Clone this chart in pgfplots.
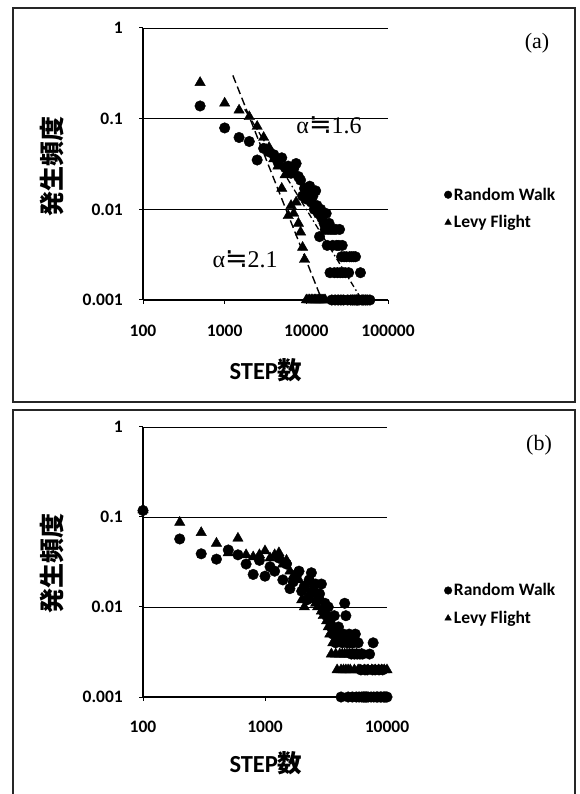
\documentclass[border=0pt]{standalone}
\usepackage{pgfplots}
\pgfplotsset{compat=1.18}
\usepackage{fontspec}
\setmainfont{Liberation Serif}
\newfontfamily\calfont{Carlito}
\newfontfamily\cjk{Noto Sans CJK JP}
\newfontfamily\symf{DejaVu Sans}
\newcommand\tickf{\calfont\bfseries\fontsize{17.5}{17.5}\selectfont}
\newcommand\legf{\calfont\bfseries\fontsize{17.5}{17.5}\selectfont}
\begin{document}
\begin{tikzpicture}[x=1pt,y=1pt]
\useasboundingbox (0,0) rectangle (579,794);
\draw[line width=1.3pt, black!85] (13,786) rectangle (575,392);
\draw[line width=1.3pt, black!85] (13,384) rectangle (575,-10);

% ---------------- (a)
\begin{axis}[
  xmode=log, ymode=log, scale only axis,
  axis lines*=left,
  ymajorgrids, grid style={black, line width=0.8pt},
  axis line style={black, line width=1.1pt},
  tick style={black, line width=1pt},
  major tick length=4pt, tick align=outside,
  xminorticks=false, yminorticks=false,
  ymin=0.001, ymax=1,
  ytick={0.001,0.01,0.1,1}, yticklabels={0.001,0.01,0.1,1},
  ticklabel style={font=\tickf},
  yticklabel style={anchor=east, inner sep=0pt, xshift=-16pt},
  clip=false,
  ylabel={\cjk\bfseries 発生頻度},
  xlabel={{\calfont\bfseries STEP}{\cjk\bfseries 数}},
  legend style={draw=none, fill=none, font=\legf, anchor=west,
    row sep=10pt, inner sep=0pt, at={(1.229,0.336)}},
  legend cell align=left,
  legend image post style={mark size=3.8pt},
  at={(143pt,494pt)}, anchor=south west,
  width=245pt, height=272pt,
  xmin=100, xmax=100000,
  xtick={100,1000,10000,100000}, xticklabels={100,1000,10000,100000},
  xticklabel style={anchor=center, yshift=-27pt},
  xlabel style={at={(axis description cs:0.502,-0.26)}, anchor=center, font=\fontsize{24.5}{24.5}\selectfont},
  ylabel style={at={(axis description cs:-0.371,0.489)}, anchor=center, font=\fontsize{25}{25}\selectfont},
]
\addplot[only marks, mark=*, mark size=5.3pt, black, mark options={fill=black}] coordinates {
(500,0.138) (1000,0.079) (1500,0.062) (2000,0.056) (2500,0.035) (3000,0.047)
(3500,0.043) (4000,0.040) (4500,0.033) (5000,0.037) (5500,0.029) (6000,0.030)
(6500,0.025) (7000,0.028) (7500,0.032) (8000,0.023) (8500,0.021) (9000,0.014)
(9500,0.017) (10000,0.013) (10500,0.016) (11000,0.018) (11500,0.012) (12000,0.014)
(12500,0.010) (13000,0.016) (13500,0.011) (14000,0.009) (14500,0.005) (15000,0.010)
(15500,0.008) (16000,0.009) (16500,0.007) (17000,0.006) (17500,0.009) (18000,0.004)
(18500,0.006) (19000,0.007) (19500,0.002) (20000,0.006) (20500,0.001) (21000,0.004)
(21500,0.006) (22000,0.002) (22500,0.001) (23000,0.006) (23500,0.004) (24000,0.002)
(24500,0.001) (25000,0.004) (25500,0.006) (26000,0.002) (26500,0.001) (27000,0.003)
(27500,0.004) (28000,0.002) (28500,0.001) (29000,0.003) (30000,0.002) (31000,0.003)
(32000,0.001) (33000,0.002) (34000,0.003) (35000,0.001) (36000,0.003) (37000,0.001)
(38000,0.003) (39000,0.001) (40000,0.003) (41000,0.001) (42000,0.001) (44000,0.001)
(46000,0.002) (48000,0.001) (50000,0.001) (53000,0.001) (56000,0.001) (60000,0.001)
};
\addlegendentry{Random Walk}
\addplot[only marks, mark=triangle*, mark size=6pt, black, mark options={fill=black}] coordinates {
(500,0.25) (1000,0.148) (1500,0.124) (2000,0.105) (2500,0.082) (3000,0.062)
(3500,0.048) (4000,0.036) (4500,0.030) (5000,0.017) (5500,0.024) (6000,0.0085)
(6500,0.011) (7000,0.009) (7500,0.012) (8000,0.007) (8500,0.0056) (9000,0.0038)
(9500,0.0028) (10000,0.001) (10500,0.001) (11000,0.001) (11500,0.001) (12000,0.001)
(12500,0.001) (13000,0.001) (13500,0.001) (14000,0.001) (14500,0.001) (15000,0.001)
(15500,0.001) (16000,0.001) (16500,0.001) (17000,0.001)
};
\addlegendentry{Levy Flight}
\addplot[black, line width=1.4pt, dash pattern=on 8pt off 4pt, forget plot] coordinates {(1260,0.30) (15500,0.001)};
\addplot[black, line width=1.3pt, dash pattern=on 6pt off 3pt on 1.5pt off 3pt, forget plot] coordinates {(1760,0.127) (45000,0.0011)};
\node[font=\fontsize{24}{24}\selectfont] at (axis cs:19000,0.085) {α{\symf\fontsize{27}{27}\selectfont ≒}1.6};
\node[font=\fontsize{24}{24}\selectfont] at (axis cs:1780,0.0028) {α{\symf\fontsize{27}{27}\selectfont ≒}2.1};
\end{axis}

% ---------------- (b)
\begin{axis}[
  xmode=log, ymode=log, scale only axis,
  axis lines*=left,
  ymajorgrids, grid style={black, line width=0.8pt},
  axis line style={black, line width=1.1pt},
  tick style={black, line width=1pt},
  major tick length=4pt, tick align=outside,
  xminorticks=false, yminorticks=false,
  ymin=0.001, ymax=1,
  ytick={0.001,0.01,0.1,1}, yticklabels={0.001,0.01,0.1,1},
  ticklabel style={font=\tickf},
  yticklabel style={anchor=east, inner sep=0pt, xshift=-16pt},
  clip=false,
  ylabel={\cjk\bfseries 発生頻度},
  xlabel={{\calfont\bfseries STEP}{\cjk\bfseries 数}},
  legend style={draw=none, fill=none, font=\legf, anchor=west,
    row sep=10pt, inner sep=0pt, at={(1.234,0.343)}},
  legend cell align=left,
  legend image post style={mark size=3.8pt},
  at={(143pt,97pt)}, anchor=south west,
  width=244pt, height=270pt,
  xmin=100, xmax=10000,
  xtick={100,1000,10000}, xticklabels={100,1000,10000},
  xticklabel style={anchor=center, yshift=-26pt},
  xlabel style={at={(axis description cs:0.504,-0.245)}, anchor=center, font=\fontsize{24.5}{24.5}\selectfont},
  ylabel style={at={(axis description cs:-0.373,0.496)}, anchor=center, font=\fontsize{25}{25}\selectfont},
]
\addplot[only marks, mark=*, mark size=5.3pt, black, mark options={fill=black}] coordinates {
(100,0.118) (200,0.057) (300,0.039) (400,0.034) (500,0.043) (600,0.038)
(700,0.030) (800,0.023) (900,0.033) (1000,0.022) (1100,0.028) (1200,0.025)
(1300,0.035) (1400,0.020) (1500,0.030) (1600,0.016) (1700,0.019) (1800,0.022)
(1900,0.025) (2000,0.015) (2100,0.017) (2200,0.012) (2300,0.020) (2400,0.024)
(2500,0.015) (2600,0.018) (2700,0.012) (2800,0.014) (2900,0.018) (3000,0.009)
(3100,0.011) (3200,0.008) (3300,0.010) (3400,0.007) (3500,0.006) (3600,0.005)
(3700,0.008) (3800,0.004) (3900,0.005) (4000,0.006) (4100,0.005) (4200,0.001)
(4300,0.004) (4400,0.005) (4500,0.011) (4600,0.008) (4700,0.004) (4800,0.001)
(4900,0.005) (5000,0.004) (5100,0.003) (5200,0.001) (5300,0.004) (5400,0.003)
(5500,0.005) (5600,0.001) (5700,0.003) (5800,0.004) (5900,0.001) (6000,0.003)
(6100,0.002) (6200,0.001) (6300,0.003) (6400,0.001) (6500,0.001) (6600,0.002)
(6700,0.001) (6800,0.001) (6900,0.002) (7000,0.001) (7200,0.003) (7400,0.001)
(7600,0.002) (7700,0.004) (7800,0.001) (8000,0.002) (8200,0.001) (8400,0.001)
(8600,0.002) (8800,0.001) (9000,0.001) (9200,0.002) (9400,0.001) (9600,0.001)
(9800,0.001) (10000,0.001)
};
\addlegendentry{Random Walk}
\addplot[only marks, mark=triangle*, mark size=6pt, black, mark options={fill=black}] coordinates {
(100,0.12) (200,0.087) (300,0.067) (400,0.051) (500,0.040) (600,0.058)
(700,0.038) (800,0.036) (900,0.038) (1000,0.042) (1100,0.035) (1200,0.038)
(1300,0.040) (1400,0.030) (1500,0.033) (1600,0.025) (1700,0.022) (1800,0.024)
(1900,0.020) (2000,0.012) (2100,0.010) (2200,0.016) (2300,0.014) (2400,0.012)
(2500,0.018) (2600,0.011) (2700,0.010) (2800,0.013) (2900,0.009) (3000,0.008)
(3100,0.010) (3200,0.007) (3300,0.006) (3400,0.005) (3500,0.003) (3600,0.004)
(3700,0.006) (3800,0.003) (3900,0.002) (4000,0.004) (4100,0.003) (4200,0.002)
(4300,0.003) (4400,0.002) (4500,0.003) (4600,0.002) (4700,0.003) (4800,0.002)
(4900,0.003) (5000,0.002) (5200,0.003) (5400,0.002) (5600,0.003) (5800,0.002)
(6000,0.002) (6200,0.003) (6500,0.002) (7000,0.002) (7500,0.002) (8000,0.002)
(8500,0.002) (9000,0.002) (9500,0.002) (10000,0.002)
};
\addlegendentry{Levy Flight}
\end{axis}

\node[font=\fontsize{22}{22}\selectfont] at (537,751) {(a)};
\node[font=\fontsize{22}{22}\selectfont] at (539,349) {(b)};
\end{tikzpicture}
\end{document}
